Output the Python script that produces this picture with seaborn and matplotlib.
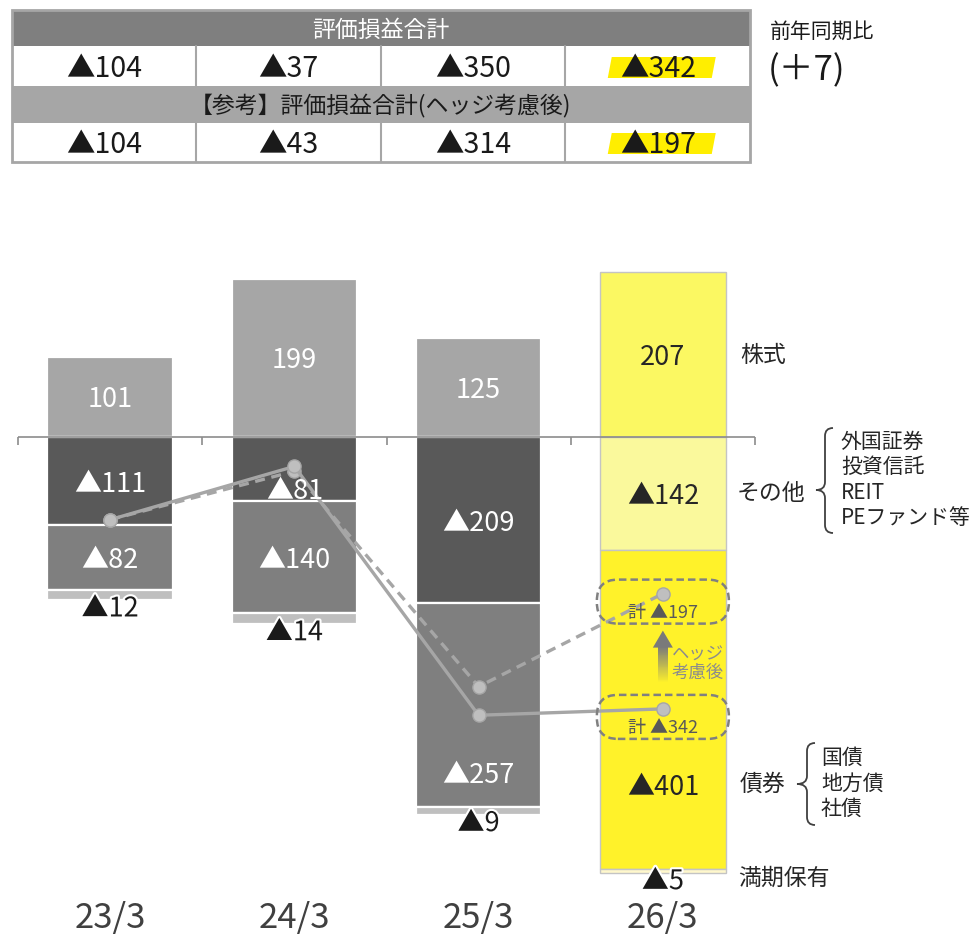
import numpy as np
import matplotlib
matplotlib.use("Agg")
import matplotlib.pyplot as plt
import matplotlib.patheffects as pe
import matplotlib.transforms as mtransforms
from matplotlib.patches import Rectangle, Polygon, FancyBboxPatch, PathPatch
from matplotlib.path import Path
import seaborn as sns

# ---- data (億円) ----
periods = ["23/3", "24/3", "25/3", "26/3"]
stocks = np.array([101, 199, 125, 207])
others = np.array([-111, -81, -209, -142])
bonds = np.array([-82, -140, -257, -401])
held_to_maturity = np.array([-12, -14, -9, -5])
total = np.array([-104, -37, -350, -342])
total_hedged = np.array([-104, -43, -314, -197])
yoy_change = 7

other_items = ["外国証券", "投資信託", "REIT", "PEファンド等"]
bond_items = ["国債", "地方債", "社債"]


def fmt(v):
    return f"▲{abs(v)}" if v < 0 else f"{v}"


sns.set_theme(style="white")
plt.rcParams["font.family"] = ["Noto Sans CJK JP", "DejaVu Sans"]

W, H = 969, 936
fig = plt.figure(figsize=(W / 100, H / 100), dpi=100)

# chart axes: 0.795 px per unit, zero line 437 px from the top
PX = 0.795
ZERO = 437
YMAX, YMIN = 250, -580
top = ZERO - YMAX * PX
bot = ZERO - YMIN * PX
ax = fig.add_axes([18 / W, 1 - bot / H, 737 / W, (bot - top) / H])
ax.patch.set_alpha(0)

past = {"stocks": "#a6a6a6", "others": "#595959", "bonds": "#7f7f7f", "htm": "#bfbfbf"}
latest = {"stocks": "#fbf862", "others": "#faf99c", "bonds": "#fff22a", "htm": "#fff8cc"}

zeros = np.zeros(len(periods))
layers = [
    ("stocks", stocks, zeros),
    ("others", others, zeros),
    ("bonds", bonds, others),
    ("htm", held_to_maturity, others + bonds),
]
last = len(periods) - 1
for key, vals, base in layers:
    sns.barplot(x=periods, y=vals, bottom=base, width=0.68, errorbar=None,
                color=past[key], saturation=1, ax=ax, zorder=2)
    for i, patch in enumerate(ax.containers[-1]):
        if i == last:
            patch.set_facecolor(latest[key])
            patch.set_edgecolor("#c4c4c4")
            patch.set_linewidth(1.0)
        else:
            patch.set_facecolor(past[key])
            patch.set_edgecolor("white")
            patch.set_linewidth(1.6)

ax.set_xlim(-0.5, 3.5)
ax.set_ylim(YMIN, YMAX)

# segment labels (some pushed down to clear the total markers)
shift = {("others", 1): 19, ("bonds", 2): 67, ("bonds", 3): 75}
for key, vals, base in layers[:3]:
    for i, v in enumerate(vals):
        ax.annotate(fmt(v), xy=(i, base[i] + v / 2),
                    xytext=(0, -3 - shift.get((key, i), 0)),
                    textcoords="offset pixels", ha="center", va="center", fontsize=19.5,
                    color="#262626" if i == last else "white", zorder=6)
for i, v in enumerate(held_to_maturity):
    ax.annotate(fmt(v), xy=(i, others[i] + bonds[i] + v), xytext=(0, -9),
                textcoords="offset pixels", ha="center", va="center", fontsize=19.5,
                color="#1a1a1a", zorder=6,
                path_effects=[pe.withStroke(linewidth=3, foreground="white")])

# zero line with category separators
ax.axhline(0, color="#8c8c8c", lw=1.2, zorder=3)
ax.vlines(np.arange(-0.5, len(periods)), -10, 0, color="#8c8c8c", lw=1.2,
          zorder=3, clip_on=False)

# totals
xpos = np.arange(len(periods))
sns.lineplot(x=xpos, y=total_hedged, ax=ax, color="#a6a6a6", linewidth=2.4,
             linestyle=(0, (3, 2)), marker="o", markersize=9.5,
             markerfacecolor="#bfbfbf", markeredgecolor="#a6a6a6", markeredgewidth=1,
             errorbar=None, legend=False, zorder=4)
sns.lineplot(x=xpos, y=total, ax=ax, color="#a6a6a6", linewidth=2.4,
             marker="o", markersize=9.5, markerfacecolor="#bfbfbf",
             markeredgecolor="#a6a6a6", markeredgewidth=1,
             errorbar=None, legend=False, zorder=5)


def at_point(x, y):
    """Pixel offsets (y up) around a data point."""
    return mtransforms.Affine2D() + mtransforms.ScaledTranslation(x, y, ax.transData)


for v in (total[last], total_hedged[last]):
    ax.add_artist(FancyBboxPatch((-66, -30), 132, 44,
                                 boxstyle="round,pad=0,rounding_size=21",
                                 fill=False, ec="#808080", lw=1.8, ls=(0, (3, 1.6)),
                                 transform=at_point(last, v), zorder=7, clip_on=False))
    ax.annotate("計 " + fmt(v), xy=(last, v), xytext=(0, -19), textcoords="offset pixels",
                ha="center", va="center", fontsize=13, color="#595959", zorder=7)

# hedge arrow: gradient shaft + head
tr = at_point(last, total_hedged[last])
top_rgb = np.array(matplotlib.colors.to_rgb("#7a7a7a"))
bot_rgb = np.array(matplotlib.colors.to_rgb(latest["bonds"]))
n = 40
y_a, y_b = -53, -90
step = (y_a - y_b) / n
for k in range(n):
    t = k / (n - 1)
    y_top = y_a - k * step
    ax.add_artist(Rectangle((-5, y_top - step), 10, step + 0.4,
                            color=top_rgb * (1 - t) + bot_rgb * t, lw=0,
                            transform=tr, zorder=6, clip_on=False))
ax.add_artist(Polygon([(0, -37), (-10, -54), (10, -54)], closed=True, color="#7a7a7a",
                      lw=0, transform=tr, zorder=6, clip_on=False))
ax.annotate("ヘッジ\n考慮後", xy=(last, total_hedged[last]), xytext=(9, -70),
            textcoords="offset pixels", ha="left", va="center", fontsize=12.5,
            color="#8c8c8c", linespacing=1.0, zorder=7)

ax.set_yticks([])
ax.set_xticks(xpos, periods)
ax.tick_params(axis="x", length=0, pad=2, labelsize=25, labelcolor="#404040")
ax.set_xlabel("")
ax.set_ylabel("")
sns.despine(ax=ax, left=True, bottom=True)

# ---- overlay in pixel coordinates: table and side notes ----
ov = fig.add_axes([0, 0, 1, 1])
ov.set_xlim(0, W)
ov.set_ylim(H, 0)
ov.axis("off")

tx0, tx1 = 12, 750
cw = (tx1 - tx0) / 4
rows = [(10, 46, "#7f7f7f"), (46, 86, "white"), (86, 123, "#a6a6a6"), (123, 162, "white")]
for y0, y1, c in rows:
    ov.add_patch(Rectangle((tx0, y0), tx1 - tx0, y1 - y0, color=c, lw=0))
for (y0, y1) in [(46, 86), (123, 162)]:
    for k in range(1, 4):
        ov.plot([tx0 + k * cw] * 2, [y0, y1], color="#a6a6a6", lw=1.5)
ov.add_patch(Rectangle((tx0, 10), tx1 - tx0, 152, fill=False, ec="#a6a6a6", lw=2))

ov.text((tx0 + tx1) / 2, 30, "評価損益合計", ha="center", va="center", fontsize=16.5,
        color="white")
ov.text((tx0 + tx1) / 2, 106, "【参考】評価損益合計(ヘッジ考慮後)", ha="center",
        va="center", fontsize=16.5, color="#1a1a1a")
for row_y, vals in [(69, total), (145, total_hedged)]:
    for i, v in enumerate(vals):
        cx = tx0 + (i + 0.5) * cw
        if i == last:
            ov.add_patch(Polygon([(cx - 46, row_y - 12), (cx + 58, row_y - 12),
                                  (cx + 54, row_y + 9), (cx - 50, row_y + 9)],
                                 closed=True, color="#ffee00", lw=0))
        ov.text(cx, row_y, fmt(v), ha="center", va="center", fontsize=20.5, color="#1a1a1a")

ov.text(770, 32, "前年同期比", ha="left", va="center", fontsize=15, color="#1a1a1a")
ov.text(768, 71, f"(＋{yoy_change})", ha="left", va="center", fontsize=25, color="#1a1a1a")


def brace(x, y0, y1, ym, d, tip):
    verts = [(x + d, y0), (x, y0), (x, y0 + d),
             (x, ym - d), (x, ym), (x - tip, ym),
             (x, ym), (x, ym + d),
             (x, y1 - d), (x, y1), (x + d, y1)]
    codes = [Path.MOVETO, Path.CURVE3, Path.CURVE3,
             Path.LINETO, Path.CURVE3, Path.CURVE3,
             Path.CURVE3, Path.CURVE3,
             Path.LINETO, Path.CURVE3, Path.CURVE3]
    ov.add_patch(PathPatch(Path(verts, codes), fill=False, ec="#404040", lw=1.3))


label_kw = dict(ha="left", va="center", color="#262626")
ov.text(740, 356, "株式", fontsize=16.5, **label_kw)
ov.text(737, 493, "その他", fontsize=16.5, **label_kw)
brace(825, 428, 533, 490, 8, 9)
for k, item in enumerate(other_items):
    ov.text(841, 442 + 25.3 * k, item, fontsize=15, **label_kw)
ov.text(740, 784, "債券", fontsize=16.5, **label_kw)
brace(807, 743, 825, 784, 8, 10)
for k, item in enumerate(bond_items):
    ov.text(821, 758 + 25.5 * k, item, fontsize=15, **label_kw)
ov.text(738, 878, "満期保有", fontsize=16.5, **label_kw)

fig.savefig("out.png", dpi=100)
